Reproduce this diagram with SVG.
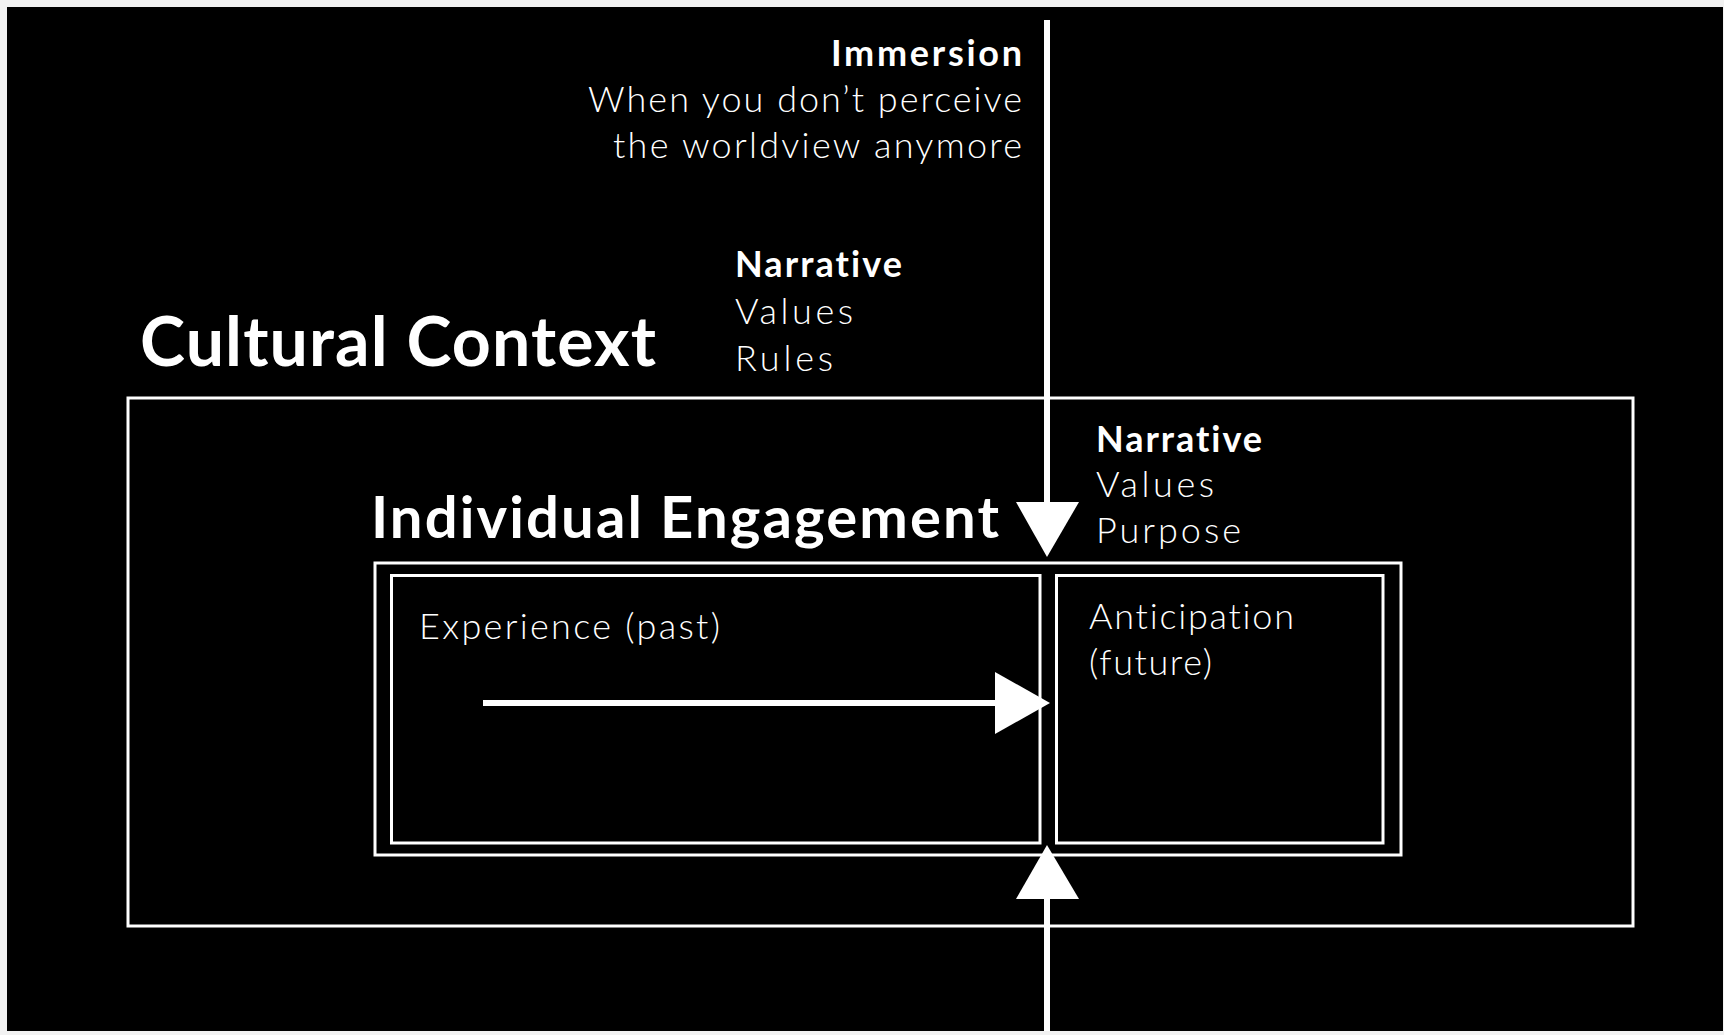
<svg xmlns="http://www.w3.org/2000/svg" width="1724" height="1035" viewBox="0 0 1724 1035">
  <style>
    .box { fill: none; stroke: #ffffff; stroke-width: 3; }
    .conn { stroke: #ffffff; stroke-width: 6; fill: none; }
    .head { fill: #ffffff; stroke: none; }
    .t { font-family: Lato, "Liberation Sans", sans-serif; fill: #ffffff; font-variant-ligatures: none; }
    .light { font-weight: 300; font-size: 36px; }
    .bold { font-weight: 700; font-size: 36px; }
    .title { font-weight: 700; }
  </style>
  <rect x="0" y="0" width="1724" height="1035" fill="#f2f2f2"/>
  <rect x="7" y="7" width="1716" height="1024" fill="#000000"/>

  <g id="immersion-label">
    <text class="t bold" x="831" y="66" textLength="191" lengthAdjust="spacing">Immersion</text>
    <text class="t light" x="588" y="112" textLength="434" lengthAdjust="spacing">When you don’t perceive</text>
    <text class="t light" x="613" y="158" textLength="409" lengthAdjust="spacing">the worldview anymore</text>
  </g>

  <g id="cultural-context">
    <rect class="box" x="128" y="398" width="1505" height="528"/>
    <text class="t title" x="140" y="366" font-size="68" textLength="516" lengthAdjust="spacing">Cultural Context</text>
    <text class="t bold" x="735" y="277" textLength="167" lengthAdjust="spacing">Narrative</text>
    <text class="t light" x="735" y="324" textLength="118" lengthAdjust="spacing">Values</text>
    <text class="t light" x="735" y="371" textLength="98" lengthAdjust="spacing">Rules</text>
  </g>

  <g id="individual-engagement">
    <rect class="box" x="375" y="563" width="1026" height="292"/>
    <text class="t title" x="371" y="538" font-size="58" textLength="628" lengthAdjust="spacing">Individual Engagement</text>
    <text class="t bold" x="1096" y="452" textLength="166" lengthAdjust="spacing">Narrative</text>
    <text class="t light" x="1096" y="497" textLength="118" lengthAdjust="spacing">Values</text>
    <text class="t light" x="1096" y="543" textLength="145" lengthAdjust="spacing">Purpose</text>
  </g>

  <g id="experience">
    <rect class="box" x="391.5" y="575.5" width="648.5" height="267.5"/>
    <text class="t light" x="419" y="639" textLength="301" lengthAdjust="spacing">Experience (past)</text>
  </g>

  <g id="anticipation">
    <rect class="box" x="1056.5" y="575.5" width="326.5" height="267.5"/>
    <text class="t light" x="1089" y="629" textLength="205" lengthAdjust="spacing">Anticipation</text>
    <text class="t light" x="1089" y="675" textLength="123" lengthAdjust="spacing">(future)</text>
  </g>

  <g id="connectors">
    <line class="conn" x1="1047" y1="20" x2="1047" y2="505"/>
    <polygon class="head" points="1016,502 1079,502 1047,557"/>
    <line class="conn" x1="1047" y1="1031" x2="1047" y2="897"/>
    <polygon class="head" points="1016,899 1079,899 1047,845"/>
    <line class="conn" x1="483" y1="703" x2="998" y2="703"/>
    <polygon class="head" points="995,672 995,734 1050,703"/>
  </g>
</svg>
